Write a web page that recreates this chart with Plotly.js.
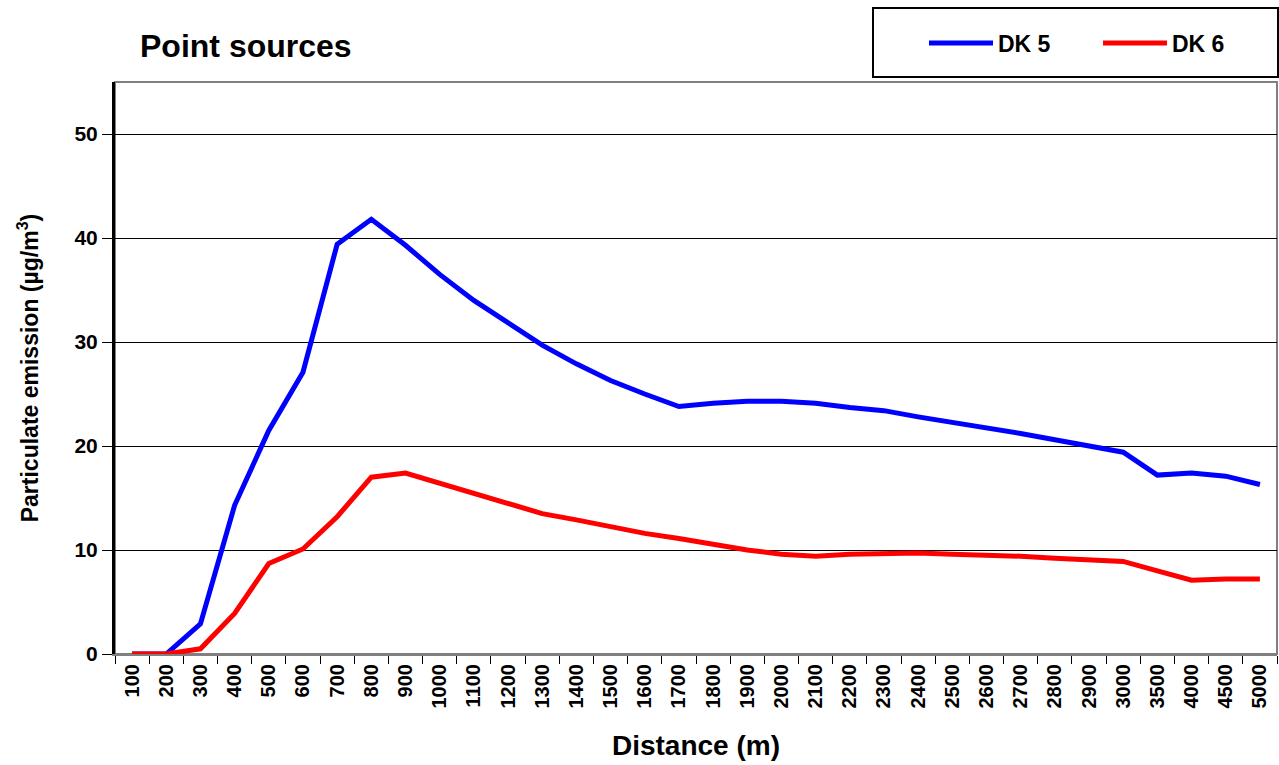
<!DOCTYPE html>
<html>
<head>
<meta charset="utf-8">
<script src="https://cdn.plot.ly/plotly-3.0.1.min.js"></script>
<style>
  html, body { margin: 0; padding: 0; background: #fff; }
  #chart { width: 1279px; height: 765px; }
</style>
</head>
<body>
<div id="chart"></div>
<script>
const distances = ["100","200","300","400","500","600","700","800","900","1000",
  "1100","1200","1300","1400","1500","1600","1700","1800","1900","2000",
  "2100","2200","2300","2400","2500","2600","2700","2800","2900","3000",
  "3500","4000","4500","5000"];

const dk5 = [0, 0, 2.9, 14.3, 21.5, 27.1, 39.4, 41.8, 39.3, 36.5,
  34.0, 31.8, 29.7, 27.9, 26.3, 25.0, 23.8, 24.1, 24.3, 24.3,
  24.1, 23.7, 23.4, 22.8, 22.3, 21.8, 21.2, 20.6, 20.0, 19.4,
  17.2, 17.4, 17.1, 16.3];

const dk6 = [0, 0, 0.5, 3.9, 8.7, 10.1, 13.2, 17.0, 17.4, 16.4,
  15.4, 14.5, 13.5, 12.9, 12.2, 11.6, 11.1, 10.5, 10.0, 9.6,
  9.4, 9.6, 9.7, 9.7, 9.6, 9.55, 9.4, 9.2, 9.0, 8.9,
  8.0, 7.1, 7.2, 7.2];

const seriesNames = ["DK 5", "DK 6"];
const yTicks = [0, 10, 20, 30, 40, 50];

const FONT = "Arial, 'Liberation Sans', sans-serif";

const traces = [
  { x: distances, y: dk5, name: seriesNames[0], type: "scatter", mode: "lines",
    line: { color: "#0000FF", width: 5 } },
  { x: distances, y: dk6, name: seriesNames[1], type: "scatter", mode: "lines",
    line: { color: "#FF0000", width: 5 } }
];

const layout = {
  width: 1279, height: 765,
  margin: { l: 115, r: 2, t: 82, b: 111 },
  paper_bgcolor: "#ffffff",
  plot_bgcolor: "#ffffff",
  font: { family: FONT, color: "#000", size: 20, weight: "bold" },
  title: {
    text: "Point sources",
    font: { family: FONT, size: 32, weight: "bold", color: "#000" },
    x: 140 / 1279, xanchor: "left", xref: "container",
    y: 1 - 46 / 765, yanchor: "middle", yref: "container"
  },
  xaxis: {
    type: "category",
    range: [-0.5, distances.length - 0.5],
    tickangle: -90,
    tickson: "boundaries",
    ticks: "outside", ticklen: 8, tickcolor: "#000", tickwidth: 1,
    tickfont: { family: FONT, size: 20, weight: "bold", color: "#000" },
    showgrid: false, zeroline: false,
    showline: true, linecolor: "#808080", linewidth: 2,
    title: { text: "Distance (m)", font: { family: FONT, size: 28, weight: "bold", color: "#000" }, standoff: 28 },
    fixedrange: true
  },
  yaxis: {
    range: [0, 55],
    tickvals: yTicks,
    ticks: "outside", ticklen: 10, tickcolor: "#000", tickwidth: 1,
    tickfont: { family: FONT, size: 21, weight: "bold", color: "#000" },
    showgrid: true, gridcolor: "#000", gridwidth: 1,
    zeroline: false,
    showline: true, linecolor: "#000", linewidth: 3,
    title: { text: "Particulate emission (µg/m<sup>3</sup>)", font: { family: FONT, size: 23, weight: "bold", color: "#000" }, standoff: 30 },
    fixedrange: true
  },
  showlegend: true,
  legend: {
    orientation: "h",
    x: (924 - 115) / 1162, xanchor: "left",
    y: (654 - 43) / 572, yanchor: "middle",
    bgcolor: "rgba(0,0,0,0)",
    borderwidth: 0,
    itemwidth: 64,
    entrywidth: 95,
    font: { family: FONT, size: 23, weight: "bold", color: "#000" }
  },
  shapes: [
    { type: "rect", xref: "paper", yref: "paper", x0: 0, x1: 1, y0: 0, y1: 1,
      line: { color: "#808080", width: 2 }, fillcolor: "rgba(0,0,0,0)", layer: "below" },
    { type: "rect", xref: "paper", yref: "paper",
      x0: (873 - 115) / 1162, x1: (1278 - 115) / 1162,
      y0: (654 - 77) / 572, y1: (654 - 8) / 572,
      line: { color: "#000", width: 2 }, fillcolor: "rgba(0,0,0,0)" }
  ]
};

Plotly.newPlot("chart", traces, layout, { displayModeBar: false, staticPlot: true });
</script>
</body>
</html>
